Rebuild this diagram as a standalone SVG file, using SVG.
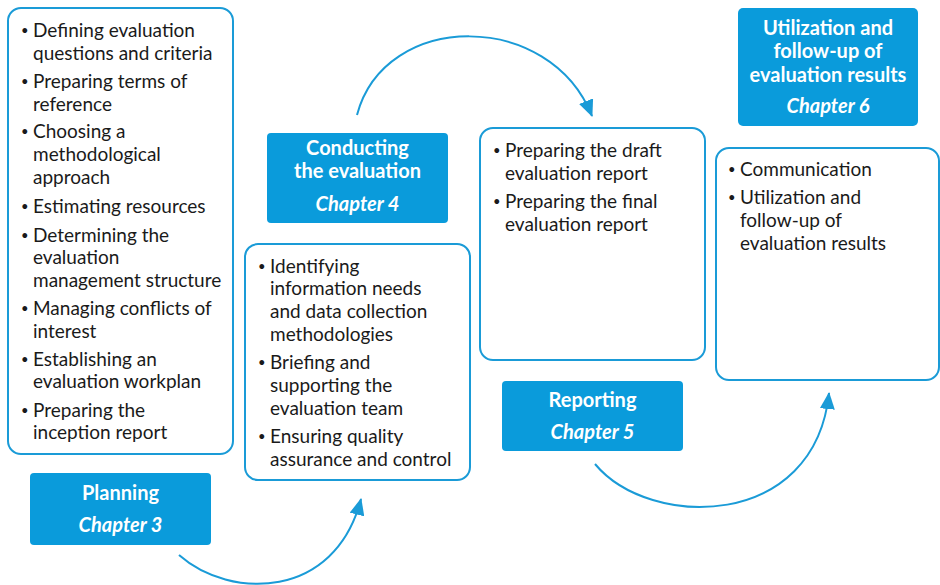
<svg xmlns="http://www.w3.org/2000/svg" width="940" height="585" viewBox="0 0 940 585">
  <defs>
    <style>
      .panel { fill: #ffffff; stroke: #1a9bd7; stroke-width: 2; }
      .head { fill: #0a9bdb; }
      .item { font-family: Lato, "Liberation Sans", sans-serif; font-size: 19px; fill: #1a1a1a; }
      .dot { font-family: Lato, "Liberation Sans", sans-serif; font-size: 13px; fill: #1a1a1a; }
      .title { font-family: Lato, "Liberation Sans", sans-serif; font-size: 20px; font-weight: bold; fill: #ffffff; text-anchor: middle; }
      .chap { font-style: italic; }
      .flow { fill: none; stroke: #1a9bd7; stroke-width: 2; marker-end: url(#head); }
    </style>
    <marker id="head" markerUnits="userSpaceOnUse" markerWidth="17" markerHeight="15" refX="16" refY="7.5" orient="auto" viewBox="0 0 17 15">
      <path d="M0,0 L17,7.5 L0,15 Z" fill="#1a9bd7"/>
    </marker>
  </defs>

  <!-- Planning: activity list and chapter label -->
  <g id="planning-list">
    <rect class="panel" x="8" y="8" width="225" height="446" rx="13"/>
    <text class="dot" x="21" y="35">•</text>
    <text class="item" x="33" y="37">Defining evaluation</text>
    <text class="item" x="33" y="60">questions and criteria</text>
    <text class="dot" x="21" y="86">•</text>
    <text class="item" x="33" y="88">Preparing terms of</text>
    <text class="item" x="33" y="111">reference</text>
    <text class="dot" x="21" y="136">•</text>
    <text class="item" x="33" y="138">Choosing a</text>
    <text class="item" x="33" y="161">methodological</text>
    <text class="item" x="33" y="184">approach</text>
    <text class="dot" x="21" y="211">•</text>
    <text class="item" x="33" y="213">Estimating resources</text>
    <text class="dot" x="21" y="240">•</text>
    <text class="item" x="33" y="242">Determining the</text>
    <text class="item" x="33" y="264">evaluation</text>
    <text class="item" x="33" y="287">management structure</text>
    <text class="dot" x="21" y="313">•</text>
    <text class="item" x="33" y="315">Managing conflicts of</text>
    <text class="item" x="33" y="338">interest</text>
    <text class="dot" x="21" y="364">•</text>
    <text class="item" x="33" y="366">Establishing an</text>
    <text class="item" x="33" y="388">evaluation workplan</text>
    <text class="dot" x="21" y="415">•</text>
    <text class="item" x="33" y="417">Preparing the</text>
    <text class="item" x="33" y="439">inception report</text>
  </g>
  <g id="planning-label">
    <rect class="head" x="30" y="473" width="181" height="72" rx="4"/>
    <text class="title" x="120.5" y="500">Planning</text>
    <text class="title chap" x="120.5" y="532">Chapter 3</text>
  </g>

  <!-- Conducting the evaluation -->
  <g id="conducting-label">
    <rect class="head" x="267" y="133" width="181" height="90" rx="4"/>
    <text class="title" x="357.5" y="155">Conducting</text>
    <text class="title" x="357.5" y="178">the evaluation</text>
    <text class="title chap" x="357.5" y="211">Chapter 4</text>
  </g>
  <g id="conducting-list">
    <rect class="panel" x="245" y="244" width="225" height="236" rx="13"/>
    <text class="dot" x="258" y="271">•</text>
    <text class="item" x="270" y="273">Identifying</text>
    <text class="item" x="270" y="295">information needs</text>
    <text class="item" x="270" y="318">and data collection</text>
    <text class="item" x="270" y="341">methodologies</text>
    <text class="dot" x="258" y="367">•</text>
    <text class="item" x="270" y="369">Briefing and</text>
    <text class="item" x="270" y="392">supporting the</text>
    <text class="item" x="270" y="415">evaluation team</text>
    <text class="dot" x="258" y="441">•</text>
    <text class="item" x="270" y="443">Ensuring quality</text>
    <text class="item" x="270" y="466">assurance and control</text>
  </g>

  <!-- Reporting -->
  <g id="reporting-list">
    <rect class="panel" x="480" y="128" width="225" height="232" rx="13"/>
    <text class="dot" x="493" y="155">•</text>
    <text class="item" x="505" y="157">Preparing the draft</text>
    <text class="item" x="505" y="180">evaluation report</text>
    <text class="dot" x="493" y="206">•</text>
    <text class="item" x="505" y="208">Preparing the final</text>
    <text class="item" x="505" y="231">evaluation report</text>
  </g>
  <g id="reporting-label">
    <rect class="head" x="502" y="381" width="181" height="70" rx="4"/>
    <text class="title" x="592.5" y="407">Reporting</text>
    <text class="title chap" x="592.5" y="439">Chapter 5</text>
  </g>

  <!-- Utilization and follow-up -->
  <g id="utilization-label">
    <rect class="head" x="738" y="8" width="180" height="118" rx="5"/>
    <text class="title" x="828" y="35">Utilization and</text>
    <text class="title" x="828" y="58">follow-up of</text>
    <text class="title" x="828" y="82">evaluation results</text>
    <text class="title chap" x="828" y="113">Chapter 6</text>
  </g>
  <g id="utilization-list">
    <rect class="panel" x="716" y="148" width="223" height="232" rx="13"/>
    <text class="dot" x="728" y="174">•</text>
    <text class="item" x="740" y="176">Communication</text>
    <text class="dot" x="728" y="202">•</text>
    <text class="item" x="740" y="204">Utilization and</text>
    <text class="item" x="740" y="227">follow-up of</text>
    <text class="item" x="740" y="250">evaluation results</text>
  </g>

  <!-- Phase-to-phase arrows -->
  <g id="connectors">
    <path class="flow" d="M179,555 C230,600 335,600 361,499"/>
    <path class="flow" d="M357,115 C385,10 550,10 592,116"/>
    <path class="flow" d="M595,464 C650,530 815,530 829,393"/>
  </g>
</svg>
